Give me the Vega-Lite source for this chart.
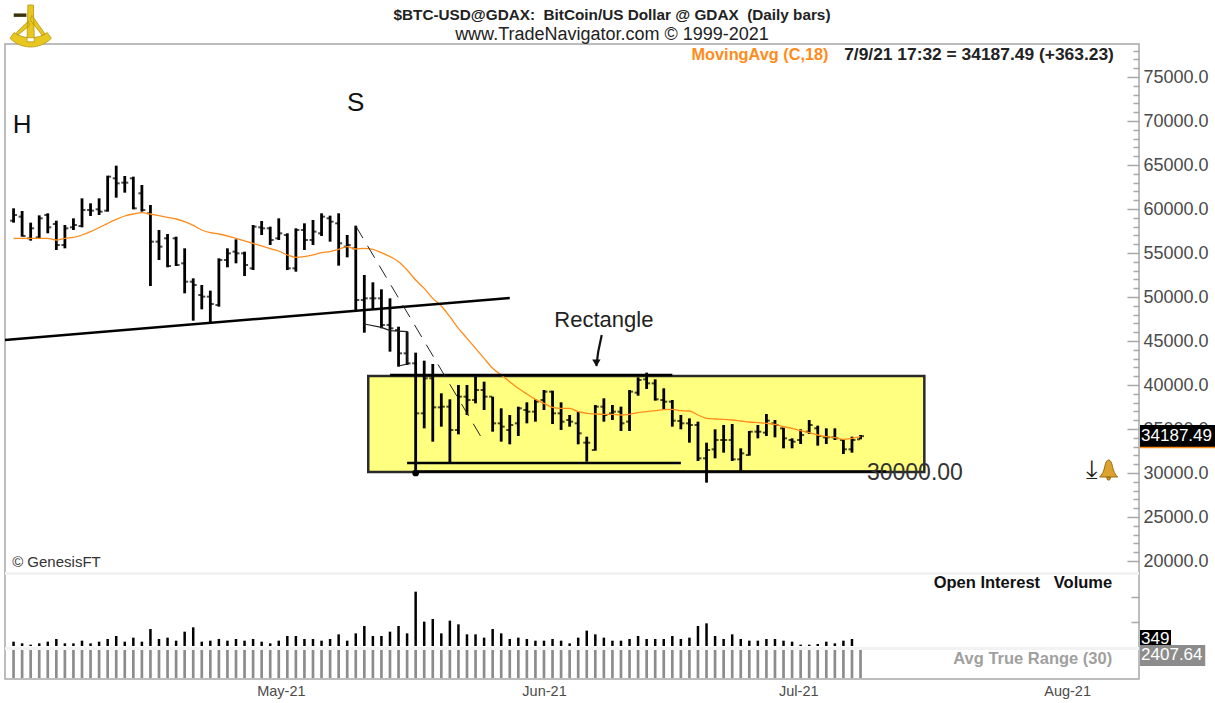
{
"$schema":"https://vega.github.io/schema/vega-lite/v6.json",
"width":1134,"height":635,
"autosize":{"type":"none"},
"padding":{"left":5,"top":44,"right":76,"bottom":24},
"background":"white",
"config":{"view":{"stroke":"#a8a8a8","strokeWidth":1.5},"text":{"font":"Liberation Sans"}},
"title":{"text":"$BTC-USD@GDAX:\u00a0 BitCoin/US Dollar @ GDAX\u00a0 (Daily bars)","subtitle":"www.TradeNavigator.com © 1999-2021","anchor":"middle","dx":40,"dy":41,"offset":0,"font":"Liberation Sans","fontSize":15.3,"fontWeight":"bold","color":"#222222","subtitleFont":"Liberation Sans","subtitleFontSize":18,"subtitleColor":"#222222","subtitlePadding":3},
"datasets":{"bars":[
{"date":"2021-04-02","open":58674,"high":60076,"low":58447,"close":59318,"ma":56667,"volume":217,"atr":2407.64},
{"date":"2021-04-03","open":59129,"high":59773,"low":56856,"close":56932,"ma":56667,"volume":133,"atr":2407.64},
{"date":"2021-04-04","open":56667,"high":58447,"low":56401,"close":57803,"ma":56667,"volume":67,"atr":2407.64},
{"date":"2021-04-05","open":56780,"high":59280,"low":56667,"close":58940,"ma":56667,"volume":133,"atr":2407.64},
{"date":"2021-04-06","open":59318,"high":59508,"low":57235,"close":57917,"ma":56667,"volume":217,"atr":2407.64},
{"date":"2021-04-07","open":58296,"high":58674,"low":55341,"close":55909,"ma":56477,"volume":350,"atr":2407.64},
{"date":"2021-04-08","open":55909,"high":58182,"low":55530,"close":57803,"ma":56667,"volume":133,"atr":2407.64},
{"date":"2021-04-09","open":57917,"high":58940,"low":57614,"close":58182,"ma":56780,"volume":133,"atr":2407.64},
{"date":"2021-04-10","open":58068,"high":61212,"low":57917,"close":59887,"ma":57046,"volume":267,"atr":2407.64},
{"date":"2021-04-11","open":59887,"high":60644,"low":59205,"close":59811,"ma":57424,"volume":133,"atr":2407.64},
{"date":"2021-04-12","open":59962,"high":61212,"low":59318,"close":59697,"ma":57879,"volume":217,"atr":2407.64},
{"date":"2021-04-13","open":59811,"high":63788,"low":59697,"close":63675,"ma":58371,"volume":350,"atr":2407.64},
{"date":"2021-04-14","open":63485,"high":64925,"low":61288,"close":62917,"ma":58826,"volume":500,"atr":2407.64},
{"date":"2021-04-15","open":62993,"high":63750,"low":61856,"close":62993,"ma":59205,"volume":217,"atr":2407.64},
{"date":"2021-04-16","open":63485,"high":63675,"low":59962,"close":60076,"ma":59432,"volume":417,"atr":2407.64},
{"date":"2021-04-17","open":61781,"high":62728,"low":59697,"close":59887,"ma":59583,"volume":217,"atr":2407.64},
{"date":"2021-04-18","open":59508,"high":60455,"low":51250,"close":56288,"ma":59432,"volume":850,"atr":2407.64},
{"date":"2021-04-19","open":56288,"high":57614,"low":54205,"close":55720,"ma":59243,"volume":350,"atr":2407.64},
{"date":"2021-04-20","open":56667,"high":57159,"low":53371,"close":53523,"ma":59053,"volume":417,"atr":2407.64},
{"date":"2021-04-21","open":56667,"high":56856,"low":53523,"close":53636,"ma":58864,"volume":267,"atr":2407.64},
{"date":"2021-04-22","open":53826,"high":55530,"low":50417,"close":51742,"ma":58561,"volume":717,"atr":2407.64},
{"date":"2021-04-23","open":51742,"high":52121,"low":47310,"close":51364,"ma":58144,"volume":933,"atr":2407.64},
{"date":"2021-04-24","open":50227,"high":51364,"low":48598,"close":50038,"ma":57614,"volume":217,"atr":2407.64},
{"date":"2021-04-25","open":50038,"high":50719,"low":47083,"close":49205,"ma":57311,"volume":267,"atr":2407.64},
{"date":"2021-04-26","open":49091,"high":54394,"low":48901,"close":54205,"ma":57159,"volume":350,"atr":2407.64},
{"date":"2021-04-27","open":54205,"high":55530,"low":53371,"close":54962,"ma":56932,"volume":267,"atr":2407.64},
{"date":"2021-04-28","open":55152,"high":56553,"low":53826,"close":54962,"ma":56667,"volume":350,"atr":2407.64},
{"date":"2021-04-29","open":54962,"high":55152,"low":52386,"close":53636,"ma":56364,"volume":267,"atr":2407.64},
{"date":"2021-04-30","open":53257,"high":58182,"low":53068,"close":57992,"ma":56098,"volume":350,"atr":2407.64},
{"date":"2021-05-01","open":57917,"high":58637,"low":57046,"close":57803,"ma":55796,"volume":217,"atr":2407.64},
{"date":"2021-05-02","open":57803,"high":57992,"low":55909,"close":56477,"ma":55493,"volume":133,"atr":2407.64},
{"date":"2021-05-03","open":56667,"high":58940,"low":56477,"close":57235,"ma":55227,"volume":267,"atr":2407.64},
{"date":"2021-05-04","open":57046,"high":57236,"low":53069,"close":53259,"ma":54774,"volume":500,"atr":2407.64},
{"date":"2021-05-05","open":53259,"high":57804,"low":52880,"close":57615,"ma":54509,"volume":500,"atr":2407.64},
{"date":"2021-05-06","open":57615,"high":58372,"low":55342,"close":56478,"ma":54584,"volume":350,"atr":2407.64},
{"date":"2021-05-07","open":56478,"high":58751,"low":55910,"close":57425,"ma":54774,"volume":350,"atr":2407.64},
{"date":"2021-05-08","open":57236,"high":59509,"low":56933,"close":59130,"ma":55039,"volume":267,"atr":2407.64},
{"date":"2021-05-09","open":58941,"high":59244,"low":56289,"close":58562,"ma":55153,"volume":350,"atr":2407.64},
{"date":"2021-05-10","open":58372,"high":59509,"low":53562,"close":56100,"ma":55418,"volume":583,"atr":2407.64},
{"date":"2021-05-11","open":55721,"high":57047,"low":54509,"close":55910,"ma":55721,"volume":267,"atr":2407.64},
{"date":"2021-05-12","open":55531,"high":58107,"low":48524,"close":49660,"ma":55456,"volume":633,"atr":2407.64},
{"date":"2021-05-13","open":49660,"high":52501,"low":45948,"close":49849,"ma":55531,"volume":1000,"atr":2407.64},
{"date":"2021-05-14","open":49849,"high":51668,"low":48524,"close":49849,"ma":55418,"volume":500,"atr":2407.64},
{"date":"2021-05-15","open":49849,"high":50872,"low":46440,"close":46819,"ma":55039,"volume":500,"atr":2407.64},
{"date":"2021-05-16","open":46819,"high":49849,"low":43788,"close":46440,"ma":54584,"volume":717,"atr":2407.64},
{"date":"2021-05-17","open":46251,"high":46630,"low":42084,"close":43599,"ma":54016,"volume":1000,"atr":2407.64},
{"date":"2021-05-18","open":43599,"high":46061,"low":42273,"close":42463,"ma":53069,"volume":633,"atr":2407.64},
{"date":"2021-05-19","open":42463,"high":43675,"low":29962,"close":36781,"ma":51933,"volume":2717,"atr":2407.64},
{"date":"2021-05-20","open":36781,"high":42766,"low":35076,"close":40758,"ma":50986,"volume":1217,"atr":2407.64},
{"date":"2021-05-21","open":40758,"high":42387,"low":33561,"close":37462,"ma":49849,"volume":1350,"atr":2407.64},
{"date":"2021-05-22","open":37462,"high":39054,"low":35266,"close":37538,"ma":48978,"volume":633,"atr":2407.64},
{"date":"2021-05-23","open":37538,"high":38372,"low":31175,"close":34886,"ma":47766,"volume":1267,"atr":2407.64},
{"date":"2021-05-24","open":34886,"high":40001,"low":34394,"close":38675,"ma":46440,"volume":1083,"atr":2407.64},
{"date":"2021-05-25","open":38675,"high":40001,"low":36591,"close":38296,"ma":45304,"volume":583,"atr":2407.64},
{"date":"2021-05-26","open":38296,"high":40948,"low":37917,"close":39432,"ma":44167,"volume":583,"atr":2407.64},
{"date":"2021-05-27","open":39432,"high":40379,"low":37160,"close":38675,"ma":43031,"volume":417,"atr":2407.64},
{"date":"2021-05-28","open":38675,"high":38675,"low":34697,"close":35644,"ma":41895,"volume":850,"atr":2407.64},
{"date":"2021-05-29","open":35644,"high":37349,"low":33561,"close":35266,"ma":41137,"volume":633,"atr":2407.64},
{"date":"2021-05-30","open":34886,"high":36591,"low":33258,"close":35455,"ma":40379,"volume":350,"atr":2407.64},
{"date":"2021-05-31","open":35644,"high":37538,"low":34205,"close":37349,"ma":39622,"volume":417,"atr":2407.64},
{"date":"2021-06-01","open":37160,"high":38031,"low":35644,"close":36970,"ma":38978,"volume":350,"atr":2407.64},
{"date":"2021-06-02","open":36970,"high":38372,"low":35834,"close":38106,"ma":38372,"volume":267,"atr":2407.64},
{"date":"2021-06-03","open":38296,"high":39432,"low":37160,"close":39243,"ma":37917,"volume":267,"atr":2407.64},
{"date":"2021-06-04","open":39243,"high":39357,"low":35568,"close":36781,"ma":37462,"volume":350,"atr":2407.64},
{"date":"2021-06-05","open":36781,"high":38031,"low":34886,"close":35834,"ma":37349,"volume":267,"atr":2407.64},
{"date":"2021-06-06","open":36023,"high":36591,"low":35266,"close":35834,"ma":37349,"volume":133,"atr":2407.64},
{"date":"2021-06-07","open":35644,"high":36970,"low":33258,"close":34508,"ma":36970,"volume":417,"atr":2407.64},
{"date":"2021-06-08","open":33448,"high":34130,"low":31289,"close":33448,"ma":36781,"volume":767,"atr":2407.64},
{"date":"2021-06-09","open":32614,"high":37728,"low":32539,"close":37539,"ma":36705,"volume":583,"atr":2407.64},
{"date":"2021-06-10","open":37539,"high":38486,"low":35834,"close":36592,"ma":36668,"volume":417,"atr":2407.64},
{"date":"2021-06-11","open":36781,"high":37728,"low":36024,"close":36971,"ma":36668,"volume":267,"atr":2407.64},
{"date":"2021-06-12","open":36971,"high":37539,"low":34773,"close":35645,"ma":36592,"volume":267,"atr":2407.64},
{"date":"2021-06-13","open":35834,"high":39433,"low":34773,"close":39243,"ma":36668,"volume":350,"atr":2407.64},
{"date":"2021-06-14","open":39130,"high":40872,"low":38789,"close":40569,"ma":36857,"volume":500,"atr":2407.64},
{"date":"2021-06-15","open":40645,"high":41403,"low":39546,"close":40190,"ma":36971,"volume":350,"atr":2407.64},
{"date":"2021-06-16","open":40190,"high":40645,"low":38221,"close":38372,"ma":37084,"volume":350,"atr":2407.64},
{"date":"2021-06-17","open":38296,"high":39622,"low":37236,"close":38107,"ma":37198,"volume":350,"atr":2407.64},
{"date":"2021-06-18","open":38107,"high":38296,"low":35266,"close":35948,"ma":37236,"volume":500,"atr":2407.64},
{"date":"2021-06-19","open":35910,"high":36592,"low":34963,"close":35645,"ma":37084,"volume":350,"atr":2407.64},
{"date":"2021-06-20","open":35645,"high":36213,"low":33448,"close":35455,"ma":37046,"volume":417,"atr":2407.64},
{"date":"2021-06-21","open":35455,"high":35834,"low":31364,"close":31667,"ma":36592,"volume":1000,"atr":2407.64},
{"date":"2021-06-22","open":31667,"high":33448,"low":28902,"close":32614,"ma":36213,"volume":1133,"atr":2407.64},
{"date":"2021-06-23","open":32690,"high":34963,"low":31667,"close":33751,"ma":36137,"volume":500,"atr":2407.64},
{"date":"2021-06-24","open":33751,"high":35455,"low":32311,"close":33751,"ma":36099,"volume":350,"atr":2407.64},
{"date":"2021-06-25","open":33751,"high":35569,"low":31364,"close":31554,"ma":36024,"volume":583,"atr":2407.64},
{"date":"2021-06-26","open":31554,"high":32804,"low":30266,"close":32236,"ma":35910,"volume":350,"atr":2407.64},
{"date":"2021-06-27","open":32046,"high":34773,"low":31970,"close":34698,"ma":35796,"volume":267,"atr":2407.64},
{"date":"2021-06-28","open":34698,"high":35455,"low":33940,"close":34698,"ma":35720,"volume":267,"atr":2407.64},
{"date":"2021-06-29","open":34584,"high":36705,"low":34205,"close":35948,"ma":35645,"volume":350,"atr":2407.64},
{"date":"2021-06-30","open":35645,"high":36024,"low":34054,"close":35455,"ma":35531,"volume":350,"atr":2407.64},
{"date":"2021-07-01","open":35076,"high":35152,"low":32804,"close":33940,"ma":35266,"volume":267,"atr":2407.64},
{"date":"2021-07-02","open":33751,"high":33940,"low":32804,"close":33561,"ma":35076,"volume":217,"atr":2407.64},
{"date":"2021-07-03","open":33751,"high":34963,"low":33296,"close":34319,"ma":34811,"volume":67,"atr":2407.64},
{"date":"2021-07-04","open":34698,"high":36024,"low":34433,"close":35455,"ma":34584,"volume":67,"atr":2407.64},
{"date":"2021-07-05","open":35076,"high":35379,"low":33106,"close":34205,"ma":34319,"volume":100,"atr":2407.64},
{"date":"2021-07-06","open":34054,"high":35076,"low":33296,"close":34054,"ma":34130,"volume":217,"atr":2407.64},
{"date":"2021-07-07","open":34054,"high":35076,"low":33751,"close":33940,"ma":34016,"volume":133,"atr":2407.64},
{"date":"2021-07-08","open":33751,"high":33864,"low":32160,"close":32690,"ma":33827,"volume":267,"atr":2407.64},
{"date":"2021-07-09","open":32690,"high":34130,"low":32311,"close":33751,"ma":33940,"volume":349,"atr":2407.64},
{"date":"2021-07-10","open":33827,"high":34319,"low":33827,"close":34187.49,"ma":34130,"volume":null,"atr":2407.64}
]},
"encoding":{"x":{"field":"date","type":"temporal","title":null,"scale":{"type":"utc","domain":["2021-04-01T00:00:00Z","2021-08-11T13:12:00Z"],"nice":false,"padding":0},
   "axis":{"orient":"bottom","domain":false,"ticks":false,"grid":false,"labels":true,"values":[{"year":2021,"month":5,"date":1,"utc":true},{"year":2021,"month":6,"date":1,"utc":true},{"year":2021,"month":7,"date":1,"utc":true},{"year":2021,"month":8,"date":1,"utc":true}],"format":"%b-%y","labelAlign":"left","labelOffset":-5,"labelPadding":5,"labelOverlap":false,"labelFont":"Liberation Sans","labelFontSize":14.5,"labelColor":"#4a4a4a"}}},
"layer":[
 {"data":{"values":[{"date":"2021-05-13T11:00:00Z","date2":"2021-07-17T11:00:00Z","top":41023,"bottom":30114}]},
  "mark":{"type":"rect","fill":"#ffff80","stroke":"#2a2a2a","strokeWidth":2.5},
  "encoding":{"x2":{"field":"date2"},"y":{"field":"top","type":"quantitative","title":null,"axis":null,"scale":{"domain":[18750,78750],"range":[528,0],"nice":false,"zero":false}},"y2":{"field":"bottom"}}},
 {"data":{"name":"bars"},"mark":{"type":"rule","strokeWidth":2.8,"color":"#000000"},
  "encoding":{
  "y":{"field":"high","type":"quantitative","title":null,"scale":{"domain":[18750,78750],"range":[528,0],"nice":false,"zero":false},
   "axis":{"orient":"right","title":null,"domain":false,"grid":false,"values":[20000,21000,22000,23000,24000,25000,26000,27000,28000,29000,30000,31000,32000,33000,34000,35000,36000,37000,38000,39000,40000,41000,42000,43000,44000,45000,46000,47000,48000,49000,50000,51000,52000,53000,54000,55000,56000,57000,58000,59000,60000,61000,62000,63000,64000,65000,66000,67000,68000,69000,70000,71000,72000,73000,74000,75000,76000,77000,78000],"labelExpr":"datum.value%5000===0?format(datum.value,'.1f'):''","labelOverlap":false,"labelFlush":false,"labelFont":"Liberation Sans","labelFontSize":18,"labelColor":"#4a4a4a","labelPadding":16,"labelAlign":"left","tickColor":"#a8a8a8","tickWidth":1.5,"tickSize":{"condition":{"test":"datum.value%5000===0","value":-12},"value":-6}}},
  "y2":{"field":"low"}}},
 {"data":{"name":"bars"},"mark":{"type":"tick","orient":"horizontal","size":3,"thickness":2,"xOffset":-2,"color":"#000000"},
  "encoding":{"y":{"field":"open","type":"quantitative","title":null,"axis":null,"scale":{"domain":[18750,78750],"range":[528,0],"nice":false,"zero":false}}}},
 {"data":{"name":"bars"},"mark":{"type":"tick","orient":"horizontal","size":3,"thickness":2,"xOffset":2,"color":"#000000"},
  "encoding":{"y":{"field":"close","type":"quantitative","title":null,"axis":null,"scale":{"domain":[18750,78750],"range":[528,0],"nice":false,"zero":false}}}},
 {"data":{"name":"bars"},"mark":{"type":"line","stroke":"#ff8c1a","strokeWidth":1.3,"interpolate":"monotone"},
  "encoding":{"y":{"field":"ma","type":"quantitative","title":null,"axis":null,"scale":{"domain":[18750,78750],"range":[528,0],"nice":false,"zero":false}}}},
 {"data":{"values":[
   {"line":"neckline","date":"2021-04-01","price":45114},{"line":"neckline","date":"2021-05-30","price":49886},
   {"line":"top","date":"2021-05-16","price":41136},{"line":"top","date":"2021-06-18","price":41136},
   {"line":"mid","date":"2021-05-18","price":31136},{"line":"mid","date":"2021-06-19","price":31136},
   {"line":"bottom","date":"2021-05-19","price":30170},{"line":"bottom","date":"2021-07-13","price":30170}]},
  "mark":{"type":"line","stroke":"#000000","strokeWidth":2.5},
  "encoding":{"detail":{"field":"line"},"y":{"field":"price","type":"quantitative","title":null,"axis":null,"scale":{"domain":[18750,78750],"range":[528,0],"nice":false,"zero":false}}}},
 {"data":{"values":[{"date":"2021-05-12","price":58068},{"date":"2021-05-27","price":33523}]},
  "mark":{"type":"line","stroke":"#222222","strokeWidth":1,"strokeDash":[14,9]},
  "encoding":{"y":{"field":"price","type":"quantitative","title":null,"axis":null,"scale":{"domain":[18750,78750],"range":[528,0],"nice":false,"zero":false}}}},
 {"data":{"values":[{"order":1,"date":"2021-05-13","price":46933},{"order":2,"date":"2021-05-15","price":46554},{"order":3,"date":"2021-05-16","price":46175},{"order":4,"date":"2021-05-18","price":46062},{"order":5,"date":"2021-05-18","price":42387},{"order":6,"date":"2021-05-17","price":42160}]},
  "mark":{"type":"line","stroke":"#222222","strokeWidth":1.2},
  "encoding":{"order":{"field":"order"},"y":{"field":"price","type":"quantitative","title":null,"axis":null,"scale":{"domain":[18750,78750],"range":[528,0],"nice":false,"zero":false}}}},
 {"data":{"values":[{"date":"2021-06-09T18:00:00Z","price":45682},{"date":"2021-06-09T08:00:00Z","price":43750},{"date":"2021-06-09T03:00:00Z","price":42159}]},
  "mark":{"type":"line","stroke":"#111111","strokeWidth":2.2},
  "encoding":{"y":{"field":"price","type":"quantitative","title":null,"axis":null,"scale":{"domain":[18750,78750],"range":[528,0],"nice":false,"zero":false}}}},
 {"data":{"values":[{"date":"2021-06-09T03:00:00Z","price":42500}]},
  "mark":{"type":"point","shape":"triangle-down","filled":true,"color":"#111111","size":70,"opacity":1},
  "encoding":{"y":{"field":"price","type":"quantitative","title":null,"axis":null,"scale":{"domain":[18750,78750],"range":[528,0],"nice":false,"zero":false}}}},
 {"data":{"values":[{"date":"2021-05-19","price":30000}]},
  "mark":{"type":"point","shape":"circle","filled":true,"color":"#000000","size":45,"opacity":1},
  "encoding":{"y":{"field":"price","type":"quantitative","title":null,"axis":null,"scale":{"domain":[18750,78750],"range":[528,0],"nice":false,"zero":false}}}},
 {"data":{"values":[{"date":"2021-04-03","price":69545,"label":"H"},{"date":"2021-05-12","price":72045,"label":"S"}]},
  "mark":{"type":"text","fontSize":26,"align":"center","baseline":"middle","color":"#111111"},
  "encoding":{"text":{"field":"label"},"y":{"field":"price","type":"quantitative","title":null,"axis":null,"scale":{"domain":[18750,78750],"range":[528,0],"nice":false,"zero":false}}}},
 {"data":{"values":[{"date":"2021-06-10","price":47386,"label":"Rectangle"}]},
  "mark":{"type":"text","fontSize":22,"align":"center","baseline":"middle","color":"#222222"},
  "encoding":{"text":{"field":"label"},"y":{"field":"price","type":"quantitative","title":null,"axis":null,"scale":{"domain":[18750,78750],"range":[528,0],"nice":false,"zero":false}}}},
 {"data":{"values":[{"date":"2021-07-10T18:00:00Z","price":30000,"label":"30000.00"}]},
  "mark":{"type":"text","fontSize":23,"align":"left","baseline":"middle","color":"#333333"},
  "encoding":{"text":{"field":"label"},"y":{"field":"price","type":"quantitative","title":null,"axis":null,"scale":{"domain":[18750,78750],"range":[528,0],"nice":false,"zero":false}}}},
 {"data":{"values":[{"date":"2021-06-20T06:00:00Z","price":77500,"label":"MovingAvg (C,18)"}]},
  "mark":{"type":"text","fontSize":16.3,"fontWeight":"bold","align":"left","baseline":"middle","color":"#ff8c1a"},
  "encoding":{"text":{"field":"label"},"y":{"field":"price","type":"quantitative","title":null,"axis":null,"scale":{"domain":[18750,78750],"range":[528,0],"nice":false,"zero":false}}}},
 {"data":{"values":[{"date":"2021-07-08T02:00:00Z","price":77500,"label":"7/9/21 17:32 = 34187.49 (+363.23)"}]},
  "mark":{"type":"text","fontSize":17.4,"fontWeight":"bold","align":"left","baseline":"middle","color":"#222222"},
  "encoding":{"text":{"field":"label"},"y":{"field":"price","type":"quantitative","title":null,"axis":null,"scale":{"domain":[18750,78750],"range":[528,0],"nice":false,"zero":false}}}},
 {"data":{"values":[{"date":"2021-04-01T20:00:00Z","price":19886,"label":"© GenesisFT"}]},
  "mark":{"type":"text","fontSize":15,"align":"left","baseline":"middle","color":"#333333"},
  "encoding":{"text":{"field":"label"},"y":{"field":"price","type":"quantitative","title":null,"axis":null,"scale":{"domain":[18750,78750],"range":[528,0],"nice":false,"zero":false}}}},
 {"data":{"values":[{"date":"2021-08-08T10:00:00Z","price":17500,"label":"Open Interest\u00a0\u00a0 Volume"}]},
  "mark":{"type":"text","fontSize":16.5,"fontWeight":"bold","align":"right","baseline":"middle","color":"#111111"},
  "encoding":{"text":{"field":"label"},"y":{"field":"price","type":"quantitative","title":null,"axis":null,"scale":{"domain":[18750,78750],"range":[528,0],"nice":false,"zero":false}}}},
 {"data":{"values":[{"date":"2021-08-11T16:00:00Z","date2":"2021-08-20T12:00:00Z","top":35455,"bottom":32955}]},
  "mark":{"type":"rect","fill":"#000000"},
  "encoding":{"x2":{"field":"date2"},"y":{"field":"top","type":"quantitative","title":null,"axis":null,"scale":{"domain":[18750,78750],"range":[528,0],"nice":false,"zero":false}},"y2":{"field":"bottom"}}},
 {"data":{"values":[{"date":"2021-08-11T16:00:00Z","date2":"2021-08-20T12:00:00Z","price":32900}]},
  "mark":{"type":"rule","stroke":"#ff8c1a","strokeWidth":1.5},
  "encoding":{"x2":{"field":"date2"},"y":{"field":"price","type":"quantitative","title":null,"axis":null,"scale":{"domain":[18750,78750],"range":[528,0],"nice":false,"zero":false}}}},
 {"data":{"values":[{"date":"2021-08-11T19:00:00Z","price":34187.49,"label":"34187.49"}]},
  "mark":{"type":"text","fontSize":17,"align":"left","baseline":"middle","color":"#ffffff"},
  "encoding":{"text":{"field":"label"},"y":{"field":"price","type":"quantitative","title":null,"axis":null,"scale":{"domain":[18750,78750],"range":[528,0],"nice":false,"zero":false}}}},
 {"data":{"values":[{"date":"2021-08-06","price":30341,"label":"⤓"}]},
  "mark":{"type":"text","font":"DejaVu Sans","fontSize":26,"align":"center","baseline":"middle","color":"#222222"},
  "encoding":{"text":{"field":"label"},"y":{"field":"price","type":"quantitative","title":null,"axis":null,"scale":{"domain":[18750,78750],"range":[528,0],"nice":false,"zero":false}}}},
 {"data":{"values":[{"date":"2021-08-08","price":30341}]},
  "mark":{"type":"point","filled":true,"size":400,"opacity":1,"fill":"#dba32c","stroke":"#9a6a14","strokeWidth":1,"shape":"M0,-1 C0.2,-1 0.3,-0.7 0.35,-0.5 C0.45,-0.1 0.5,0.3 0.9,0.7 L-0.9,0.7 C-0.5,0.3 -0.45,-0.1 -0.35,-0.5 C-0.3,-0.7 -0.2,-1 0,-1 Z M-0.2,0.75 L0.2,0.75 L0.1,1 L-0.1,1 Z"},
  "encoding":{"y":{"field":"price","type":"quantitative","title":null,"axis":null,"scale":{"domain":[18750,78750],"range":[528,0],"nice":false,"zero":false}}}},
 {"data":{"values":[{"date":"2021-04-04","price":80568}]},
  "mark":{"type":"point","filled":true,"size":2116,"opacity":1,"fill":"#e8c820","stroke":"#b8960c","strokeWidth":0.8,"shape":"M-0.9,0.45 C-0.4,0.95 0.4,0.95 0.9,0.45 L0.72,0.2 C0.3,0.5 -0.3,0.5 -0.72,0.2 Z M-0.12,-1 L0.12,-1 L0.16,0.6 L-0.16,0.6 Z M0.05,-0.55 L0.62,0.25 L0.5,0.32 L-0.02,-0.35 Z M-0.05,-0.1 L-0.55,0.3 L-0.62,0.2 L-0.1,-0.3 Z"},
  "encoding":{"y":{"field":"price","type":"quantitative","title":null,"axis":null,"scale":{"domain":[18750,78750],"range":[528,0],"nice":false,"zero":false}}}},
 {"data":{"values":[{"date":"2021-04-03T12:00:00Z","price":81700}]},
  "mark":{"type":"point","filled":true,"size":2116,"opacity":1,"fill":"#3a3208","shape":"M-0.55,-0.2 L0,-0.2 L0,-0.05 L-0.55,-0.05 Z"},
  "encoding":{"y":{"field":"price","type":"quantitative","title":null,"axis":null,"scale":{"domain":[18750,78750],"range":[528,0],"nice":false,"zero":false}}}},
 {"data":{"values":[{"price":18580}]},
  "mark":{"type":"rule","stroke":"#f2f2f2","strokeWidth":3},
  "encoding":{"x":null,"y":{"field":"price","type":"quantitative","title":null,"axis":null,"scale":{"domain":[18750,78750],"range":[528,0],"nice":false,"zero":false}}}},
 {"data":{"name":"bars"},"mark":{"type":"bar","size":2.5,"color":"#000000"},
  "encoding":{"y":{"field":"volume","type":"quantitative","title":null,"scale":{"domain":[0,3550],"range":[602,531],"nice":false},
   "axis":{"orient":"right","title":null,"domain":false,"grid":false,"labels":false,"values":[1200,2450],"tickColor":"#a8a8a8","tickWidth":1.5,"tickSize":-8}}}},
 {"data":{"values":[{"date":"2021-08-11T16:00:00Z","date2":"2021-08-15T07:00:00Z","top":800,"bottom":-50}]},
  "mark":{"type":"rect","fill":"#000000"},
  "encoding":{"x2":{"field":"date2"},"y":{"field":"top","type":"quantitative","title":null,"axis":null,"scale":{"domain":[0,3550],"range":[602,531],"nice":false}},"y2":{"field":"bottom"}}},
 {"data":{"values":[{"date":"2021-08-11T19:00:00Z","volume":349,"label":"349"}]},
  "mark":{"type":"text","fontSize":17,"align":"left","baseline":"middle","color":"#ffffff"},
  "encoding":{"text":{"field":"label"},"y":{"field":"volume","type":"quantitative","title":null,"axis":null,"scale":{"domain":[0,3550],"range":[602,531],"nice":false}}}},
 {"data":{"name":"bars"},"mark":{"type":"bar","size":2.7,"color":"#8c8c8c"},
  "encoding":{"y":{"field":"atr","type":"quantitative","title":null,"axis":null,"scale":{"domain":[0,2400],"range":[634,606],"nice":false}}}},
 {"data":{"values":[{"price":2528}]},
  "mark":{"type":"rule","stroke":"#f2f2f2","strokeWidth":3},
  "encoding":{"x":null,"y":{"field":"price","type":"quantitative","title":null,"axis":null,"scale":{"domain":[0,2400],"range":[634,606],"nice":false}}}},
 {"data":{"values":[{"date":"2021-08-11T16:00:00Z","date2":"2021-08-19T07:00:00Z","top":2829,"bottom":1029}]},
  "mark":{"type":"rect","fill":"#8c8c8c"},
  "encoding":{"x2":{"field":"date2"},"y":{"field":"top","type":"quantitative","title":null,"axis":null,"scale":{"domain":[0,2400],"range":[634,606],"nice":false}},"y2":{"field":"bottom"}}},
 {"data":{"values":[{"date":"2021-08-11T19:00:00Z","atr":2407.64,"label":"2407.64"}]},
  "mark":{"type":"text","fontSize":17,"align":"left","baseline":"middle","dy":5,"color":"#ffffff"},
  "encoding":{"text":{"field":"label"},"y":{"field":"atr","type":"quantitative","title":null,"axis":null,"scale":{"domain":[0,2400],"range":[634,606],"nice":false}}}},
 {"data":{"values":[{"date":"2021-08-08T10:00:00Z","atr":2400,"label":"Avg True Range (30)"}]},
  "mark":{"type":"text","fontSize":16.5,"fontWeight":"bold","align":"right","baseline":"middle","dy":9,"color":"#a0a0a0"},
  "encoding":{"text":{"field":"label"},"y":{"field":"atr","type":"quantitative","title":null,"axis":null,"scale":{"domain":[0,2400],"range":[634,606],"nice":false}}}}
],
"resolve":{"scale":{"y":"independent"},"axis":{"y":"independent"}}
}
